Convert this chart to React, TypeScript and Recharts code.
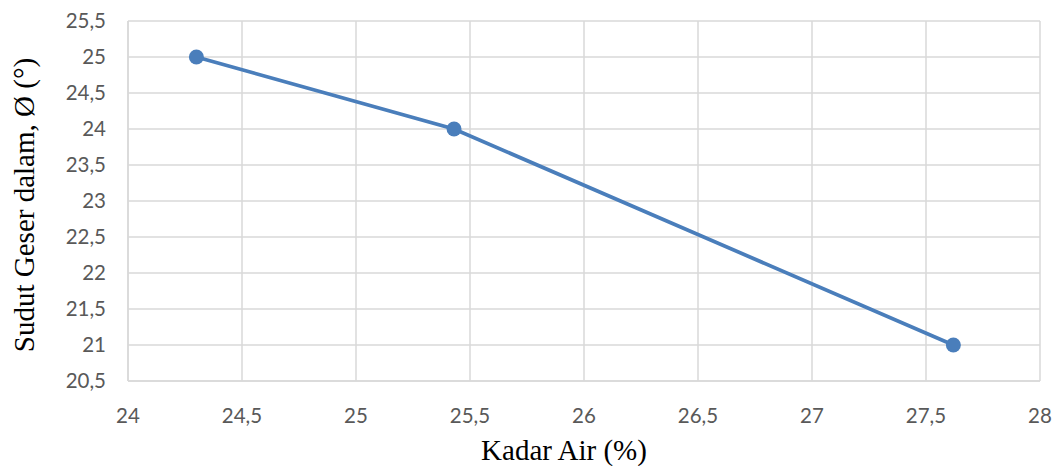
import React from 'react';
import { LineChart, Line, XAxis, YAxis, CartesianGrid } from 'recharts';

const kadarAir = [24.3, 25.43, 27.62];
const sudutGeser = [25, 24, 21];
const xTicks = [24, 24.5, 25, 25.5, 26, 26.5, 27, 27.5, 28];
const yTicks = [20.5, 21, 21.5, 22, 22.5, 23, 23.5, 24, 24.5, 25, 25.5];
const xTitle = 'Kadar Air (%)';
const yTitle = 'Sudut Geser dalam, Ø (°)';

const data = kadarAir.map((x, i) => ({ x, y: sudutGeser[i] }));

const fmt = (v: number) => String(v).replace('.', ',');

const tickStyle = { fill: '#595959', fontSize: 20.5, fontFamily: 'Lato, "Open Sans", sans-serif' };
const titleFont = '"Liberation Serif", "Times New Roman", serif';

const XTitle = (props: any) => {
  const vb = props.viewBox || {};
  return (
    <text x={vb.x + vb.width / 2 - 20} y={460} textAnchor="middle" fontFamily={titleFont} fontSize={29} fill="#000">
      {xTitle}
    </text>
  );
};

const YTitle = (props: any) => {
  const vb = props.viewBox || {};
  const cx = 24;
  const cy = vb.y + vb.height / 2 + 4;
  return (
    <text x={cx} y={cy} transform={`rotate(-90 ${cx} ${cy})`} textAnchor="middle" dominantBaseline="central" fontFamily={titleFont} fontSize={29} fill="#000">
      {yTitle}
    </text>
  );
};

export default function App() {
  return (
    <div style={{ position: 'absolute', left: 0, top: 0, width: 1058, height: 466, background: '#fff' }}>
      <LineChart width={1058} height={466} data={data} margin={{ top: 21, right: 18, bottom: 0, left: 0 }}>
        <CartesianGrid stroke="#d9d9d9" strokeWidth={1.5} />
        <XAxis
          type="number"
          dataKey="x"
          domain={[24, 28]}
          ticks={xTicks}
          tickFormatter={fmt}
          tick={tickStyle}
          tickLine={false}
          tickSize={0}
          tickMargin={27}
          axisLine={{ stroke: '#d9d9d9', strokeWidth: 1.5 }}
          height={85}
          interval={0}
          label={<XTitle />}
        />
        <YAxis
          type="number"
          dataKey="y"
          domain={[20.5, 25.5]}
          ticks={yTicks}
          tickFormatter={fmt}
          tick={tickStyle}
          tickLine={false}
          tickSize={0}
          tickMargin={22}
          axisLine={{ stroke: '#d9d9d9', strokeWidth: 1.5 }}
          width={128}
          interval={0}
          label={<YTitle />}
        />
        <Line
          type="linear"
          dataKey="y"
          stroke="#4a7ebb"
          strokeWidth={3.75}
          dot={{ r: 7.5, fill: '#4a7ebb', stroke: 'none' }}
          activeDot={false}
          isAnimationActive={false}
        />
      </LineChart>
    </div>
  );
}
